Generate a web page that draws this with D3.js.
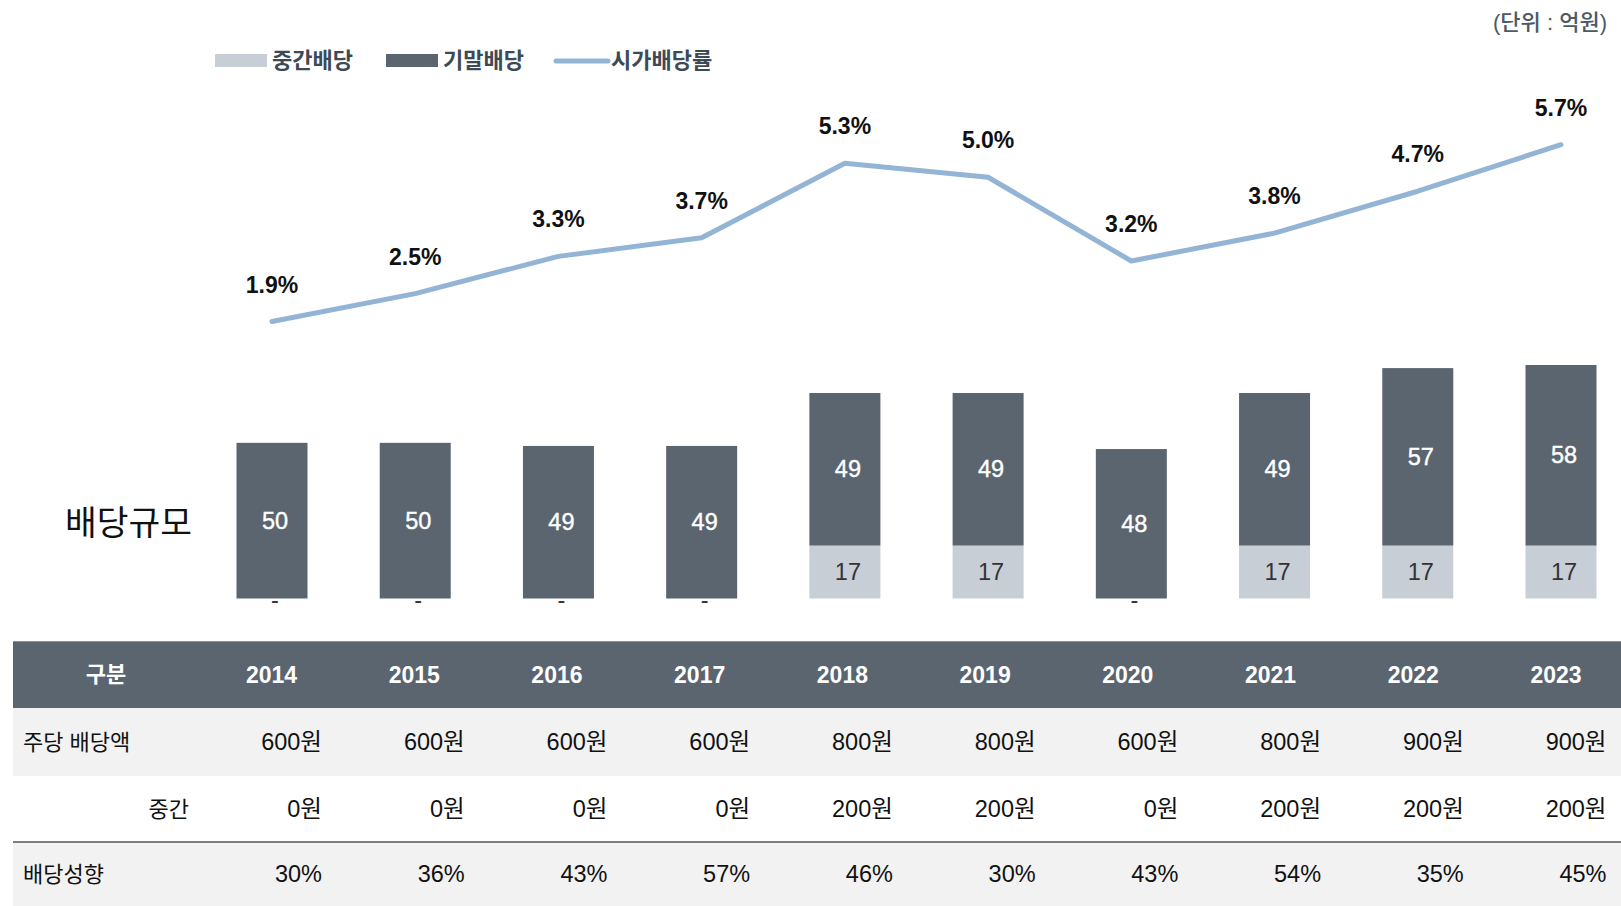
<!DOCTYPE html>
<html>
<head>
<meta charset="utf-8">
<script src="https://cdn.jsdelivr.net/npm/d3@7"></script>
<style>
  body { margin: 0; background: #fff; }
  svg text { font-family: "Liberation Sans", "Noto Sans CJK KR", sans-serif; }
</style>
</head>
<body>
<div id="chart"></div>
<script>
// chart data
var years = ["2014", "2015", "2016", "2017", "2018", "2019", "2020", "2021", "2022", "2023"];
var interimDiv = [0, 0, 0, 0, 17, 17, 0, 17, 17, 17];
var finalDiv = [50, 50, 49, 49, 49, 49, 48, 49, 57, 58];
var yieldRate = [1.9, 2.5, 3.3, 3.7, 5.3, 5.0, 3.2, 3.8, 4.7, 5.7];

// table data
var dpsTotal = [600, 600, 600, 600, 800, 800, 600, 800, 900, 900];
var dpsInterim = [0, 0, 0, 0, 200, 200, 0, 200, 200, 200];
var payoutRatio = [30, 36, 43, 57, 46, 30, 43, 54, 35, 45];
var rowLabels = ["주당 배당액", "중간", "배당성향"];
var legendLabels = ["중간배당", "기말배당", "시가배당률"];

var colors = {
    interim: "#c7ced5",
    final: "#5a6570",
    line: "#93b4d4",
    legendText: "#3c4a57"
};

var width = 1621, height = 906;

var svg = d3.select("#chart").append("svg")
    .attr("width", width)
    .attr("height", height);

// scales
var x = d3.scalePoint().domain(years).range([272, 1561]);
var xTable = d3.scalePoint().domain(years).range([271.5, 1556]);
var y = d3.scaleLinear().domain([0, 75]).range([598.5, 365]);
var yLine = d3.scaleLinear().domain([1.9, 5.7]).range([321.5, 144.7]);
var barWidth = 71;

var data = years.map(function(yr, i) {
    return { year: yr, interim: interimDiv[i], final: finalDiv[i], rate: yieldRate[i] };
});

// unit note
svg.append("text")
    .attr("x", 1607)
    .attr("y", 22)
    .attr("text-anchor", "end")
    .attr("dominant-baseline", "central")
    .style("font-size", "22px")
    .style("font-weight", 500)
    .style("fill", "#4c5a68")
    .text("(단위 : 억원)");

// legend
var legend = svg.append("g");
var legendX = [215, 386, 554];
legend.append("rect")
    .attr("x", legendX[0]).attr("y", 54)
    .attr("width", 52).attr("height", 13)
    .attr("fill", colors.interim);
legend.append("rect")
    .attr("x", legendX[1]).attr("y", 54)
    .attr("width", 52).attr("height", 13)
    .attr("fill", colors.final);
legend.append("line")
    .attr("x1", legendX[2] + 2).attr("x2", legendX[2] + 54)
    .attr("y1", 61).attr("y2", 61)
    .attr("stroke", colors.line)
    .attr("stroke-width", 5)
    .attr("stroke-linecap", "round");
legend.selectAll("text.lg")
    .data(legendLabels)
    .enter().append("text")
    .attr("class", "lg")
    .attr("x", function(d, i) { return legendX[i] + 57; })
    .attr("y", 60)
    .attr("dominant-baseline", "central")
    .style("font-size", "22px")
    .style("font-weight", "bold")
    .style("fill", colors.legendText)
    .text(function(d) { return d; });

// left label
svg.append("text")
    .attr("x", 65)
    .attr("y", 523)
    .attr("dominant-baseline", "central")
    .style("font-size", "34.5px")
    .style("fill", "#111")
    .text("배당규모");

// bars
var bars = svg.append("g");
bars.selectAll("rect.interim")
    .data(data)
    .enter().append("rect")
    .attr("class", "interim")
    .attr("x", function(d) { return x(d.year) - barWidth / 2; })
    .attr("width", barWidth)
    .attr("y", function(d) { return y(d.interim); })
    .attr("height", function(d) { return y(0) - y(d.interim); })
    .attr("fill", colors.interim);

bars.selectAll("rect.final")
    .data(data)
    .enter().append("rect")
    .attr("class", "final")
    .attr("x", function(d) { return x(d.year) - barWidth / 2; })
    .attr("width", barWidth)
    .attr("y", function(d) { return y(d.interim + d.final); })
    .attr("height", function(d) { return y(d.interim) - y(d.interim + d.final); })
    .attr("fill", colors.final);

bars.selectAll("text.finalLbl")
    .data(data)
    .enter().append("text")
    .attr("class", "finalLbl")
    .attr("x", function(d) { return x(d.year) + 3; })
    .attr("y", function(d) { return (y(d.interim) + y(d.interim + d.final)) / 2; })
    .attr("text-anchor", "middle")
    .attr("dominant-baseline", "central")
    .style("font-size", "23.5px")
    .style("fill", "#fff")
    .style("stroke", "#fff")
    .style("stroke-width", 0.4)
    .text(function(d) { return d.final; });

bars.selectAll("text.interimLbl")
    .data(data)
    .enter().append("text")
    .attr("class", "interimLbl")
    .attr("x", function(d) { return x(d.year) + 3; })
    .attr("y", function(d) { return d.interim == 0 ? y(0) + 1 : (y(0) + y(d.interim)) / 2; })
    .attr("text-anchor", "middle")
    .attr("dominant-baseline", "central")
    .style("font-size", "23.5px")
    .style("fill", "#333")
    .text(function(d) { return d.interim == 0 ? "-" : d.interim; });

// dividend yield line
var line = d3.line()
    .x(function(d) { return x(d.year); })
    .y(function(d) { return yLine(d.rate); });

svg.append("path")
    .datum(data)
    .attr("d", line)
    .attr("fill", "none")
    .attr("stroke", colors.line)
    .attr("stroke-width", 5)
    .attr("stroke-linecap", "round")
    .attr("stroke-linejoin", "round");

svg.selectAll("text.rateLbl")
    .data(data)
    .enter().append("text")
    .attr("class", "rateLbl")
    .attr("x", function(d) { return x(d.year); })
    .attr("y", function(d) { return yLine(d.rate) - 37; })
    .attr("text-anchor", "middle")
    .attr("dominant-baseline", "central")
    .style("font-size", "23px")
    .style("font-weight", "bold")
    .style("fill", "#111")
    .text(function(d) { return d.rate.toFixed(1) + "%"; });

// table
var table = svg.append("g");
var tableLeft = 13;
var rowTops = [641, 708, 776, 842, 906];
var rowFills = [colors.final, "#f2f2f2", "#ffffff", "#f2f2f2"];

table.selectAll("rect.row")
    .data(rowFills)
    .enter().append("rect")
    .attr("class", "row")
    .attr("x", tableLeft)
    .attr("width", width - tableLeft)
    .attr("y", function(d, i) { return rowTops[i]; })
    .attr("height", function(d, i) { return rowTops[i + 1] - rowTops[i]; })
    .attr("fill", function(d) { return d; });

table.append("line")
    .attr("x1", tableLeft).attr("x2", width)
    .attr("y1", 641.5).attr("y2", 641.5)
    .attr("stroke", "#8c939a").attr("stroke-width", 1);

table.append("line")
    .attr("x1", tableLeft).attr("x2", width)
    .attr("y1", 842).attr("y2", 842)
    .attr("stroke", "#555").attr("stroke-width", 1.5);

function rowMid(i) { return (rowTops[i] + rowTops[i + 1]) / 2; }

// header row
table.append("text")
    .attr("x", 106)
    .attr("y", rowMid(0))
    .attr("text-anchor", "middle")
    .attr("dominant-baseline", "central")
    .style("font-size", "22px")
    .style("font-weight", "bold")
    .style("fill", "#fff")
    .text("구분");

table.selectAll("text.yr")
    .data(years)
    .enter().append("text")
    .attr("class", "yr")
    .attr("x", function(d) { return xTable(d); })
    .attr("y", rowMid(0))
    .attr("text-anchor", "middle")
    .attr("dominant-baseline", "central")
    .style("font-size", "23px")
    .style("font-weight", "bold")
    .style("fill", "#fff")
    .text(function(d) { return d; });

// row labels
table.append("text")
    .attr("x", 23).attr("y", rowMid(1))
    .attr("dominant-baseline", "central")
    .style("font-size", "22px").style("fill", "#111")
    .text(rowLabels[0]);
table.append("text")
    .attr("x", 189).attr("y", rowMid(2))
    .attr("text-anchor", "end")
    .attr("dominant-baseline", "central")
    .style("font-size", "22px").style("fill", "#111")
    .text(rowLabels[1]);
table.append("text")
    .attr("x", 23).attr("y", rowMid(3))
    .attr("dominant-baseline", "central")
    .style("font-size", "22px").style("fill", "#111")
    .text(rowLabels[2]);

var tableRows = [
    { vals: dpsTotal, fmt: function(v) { return v + "원"; } },
    { vals: dpsInterim, fmt: function(v) { return v + "원"; } },
    { vals: payoutRatio, fmt: function(v) { return v + "%"; } }
];

tableRows.forEach(function(row, r) {
    table.selectAll("text.val" + r)
        .data(row.vals)
        .enter().append("text")
        .attr("class", "val" + r)
        .attr("x", function(d, i) { return xTable(years[i]) + 50.5; })
        .attr("y", rowMid(r + 1))
        .attr("text-anchor", "end")
        .attr("dominant-baseline", "central")
        .style("font-size", "23.5px")
        .style("fill", "#111")
        .text(function(d) { return row.fmt(d); });
});
</script>
</body>
</html>
